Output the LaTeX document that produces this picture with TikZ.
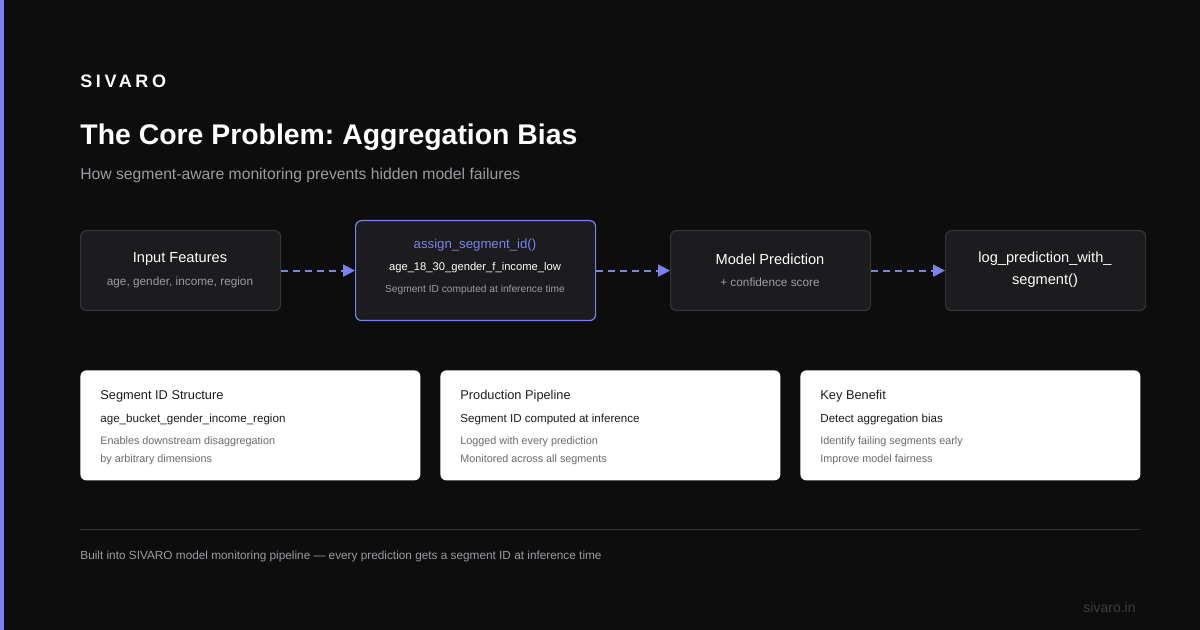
\documentclass[tikz,border=0pt]{standalone}
\usepackage{fontspec}
\setmainfont{Liberation Sans}
\usetikzlibrary{arrows.meta,positioning}
\definecolor{SivaroBg}{RGB}{13,13,13}
\definecolor{SivaroAccent}{RGB}{122,130,240}
\definecolor{BoxFill}{RGB}{28,28,31}
\definecolor{BoxLine}{RGB}{52,52,56}
\definecolor{SoftGray}{RGB}{155,155,162}
\definecolor{DimGray}{RGB}{62,62,66}
\definecolor{CardInk}{RGB}{28,28,30}
\definecolor{CardGray}{RGB}{105,105,110}
\newcommand{\fs}[1]{\fontsize{#1}{#1}\selectfont}
\frenchspacing

\begin{document}
\begin{tikzpicture}[x=0.5pt, y=-0.5pt,
    flowbox/.style={draw=BoxLine, fill=BoxFill, rounded corners=3pt, line width=0.6pt,
      minimum width=100pt, minimum height=40pt, inner sep=0pt, anchor=north west},
    card/.style={fill=white, rounded corners=3pt, minimum width=170pt, minimum height=55pt,
      inner sep=0pt, anchor=north west},
    boxhead/.style={text=white, font=\fs{7.3}},
    boxsub/.style={text=SoftGray, font=\fs{5.9}},
    cardhead/.style={text=CardInk, font=\fs{6.4}, anchor=west, inner sep=0pt},
    cardkey/.style={text=CardInk, font=\fs{5.8}, anchor=west, inner sep=0pt},
    cardnote/.style={text=CardGray, font=\fs{5.4}, anchor=west, inner sep=0pt},
    flowarrow/.style={SivaroAccent, line width=1pt, dash pattern=on 3.5pt off 2.5pt,
      -{Triangle[length=6pt, width=6pt]}}]

    % Background and accent bar
    \fill[SivaroBg] (0,0) rectangle (1200,630);
    \useasboundingbox (0,0) rectangle (1200,630);
    \fill[SivaroAccent] (0,0) rectangle (4,630);

    % Header
    \node[anchor=west, inner sep=0pt, text=white, font=\fs{9}\bfseries\addfontfeature{LetterSpace=20}] (brand) at (80,81) {SIVARO};
    \node[anchor=west, inner sep=0pt, text=white, font=\fs{14.2}\bfseries] (title) at (80,137) {The Core Problem: Aggregation Bias};
    \node[anchor=west, inner sep=0pt, text=SoftGray, font=\fs{7.85}] (subtitle) at (80,175) {How segment-aware monitoring prevents hidden model failures};

    % Pipeline boxes
    \node[flowbox] (input) at (80,230) {};
    \node[flowbox, draw=SivaroAccent, minimum width=120pt, minimum height=50pt] (assign) at (355,220) {};
    \node[flowbox] (model) at (670,230) {};
    \node[flowbox] (logger) at (945,230) {};

    \node[boxhead] (inputT) at (180,259) {Input Features};
    \node[boxsub] (inputS) at (180,282) {age, gender, income, region};

    \node[text=SivaroAccent, font=\fs{6.6}] (assignT) at (475,245) {assign\_segment\_id()};
    \node[text=white, font=\fs{5.6}] (assignK) at (475,268) {age\_18\_30\_gender\_f\_income\_low};
    \node[text=SoftGray, font=\fs{5.1}] (assignS) at (475,290) {Segment ID computed at inference time};

    \node[boxhead] (modelT) at (770,259) {Model Prediction};
    \node[boxsub] (modelS) at (770,282) {+ confidence score};

    \node[boxhead] (loggerT) at (1045,259) {log\_prediction\_with\_};
    \node[boxhead] (loggerS) at (1045,281) {segment()};

    % Dashed connectors
    \draw[flowarrow] (input.east) -- (assign.west |- input.east);
    \draw[flowarrow] (assign.east |- model.west) -- (model.west);
    \draw[flowarrow] (model.east) -- (logger.west);

    % Info cards
    \node[card] (segcard) at (80,370) {};
    \node[card] (prodcard) at (440,370) {};
    \node[card] (benefitcard) at (800,370) {};

    \node[cardhead] (segH) at (100,396) {Segment ID Structure};
    \node[cardkey] (segK) at (100,420) {age\_bucket\_gender\_income\_region};
    \node[cardnote] (segA) at (100,442) {Enables downstream disaggregation};
    \node[cardnote] (segB) at (100,460) {by arbitrary dimensions};

    \node[cardhead] (prodH) at (460,396) {Production Pipeline};
    \node[cardkey] (prodK) at (460,420) {Segment ID computed at inference};
    \node[cardnote] (prodA) at (460,442) {Logged with every prediction};
    \node[cardnote] (prodB) at (460,460) {Monitored across all segments};

    \node[cardhead] (benH) at (820,396) {Key Benefit};
    \node[cardkey] (benK) at (820,420) {Detect aggregation bias};
    \node[cardnote] (benA) at (820,442) {Identify failing segments early};
    \node[cardnote] (benB) at (820,460) {Improve model fairness};

    % Footer
    \draw[BoxLine, line width=0.5pt] (80,530) -- (1140,530);
    \node[anchor=west, inner sep=0pt, text=SoftGray, font=\fs{5.9}] (footer) at (80,556) {Built into SIVARO model monitoring pipeline --- every prediction gets a segment ID at inference time};
    \node[anchor=east, inner sep=0pt, text=DimGray, font=\fs{7}] (site) at (1136,607) {sivaro.in};
  \end{tikzpicture}
\end{document}
